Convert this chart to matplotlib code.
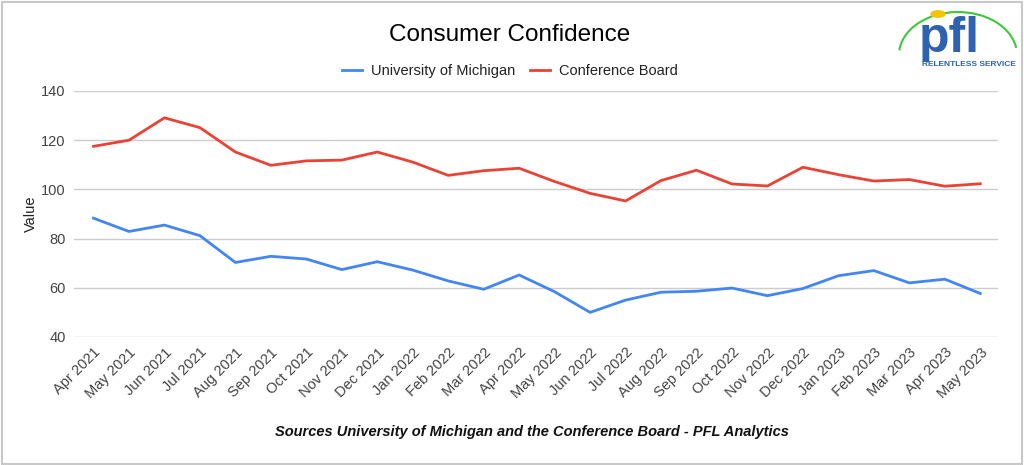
import matplotlib
matplotlib.use("Agg")
import matplotlib.pyplot as plt
from matplotlib.patches import Arc, Circle, Rectangle

months = ["Apr 2021", "May 2021", "Jun 2021", "Jul 2021", "Aug 2021", "Sep 2021", "Oct 2021",
          "Nov 2021", "Dec 2021", "Jan 2022", "Feb 2022", "Mar 2022", "Apr 2022", "May 2022",
          "Jun 2022", "Jul 2022", "Aug 2022", "Sep 2022", "Oct 2022", "Nov 2022", "Dec 2022",
          "Jan 2023", "Feb 2023", "Mar 2023", "Apr 2023", "May 2023"]
michigan = [88.3, 82.9, 85.5, 81.2, 70.3, 72.8, 71.7, 67.4, 70.6, 67.2, 62.8, 59.4, 65.2,
            58.4, 50.0, 55.0, 58.2, 58.6, 59.9, 56.8, 59.7, 64.9, 67.0, 62.0, 63.5, 57.7]
conference = [117.5, 120.0, 129.1, 125.1, 115.2, 109.8, 111.6, 111.9, 115.2, 111.1, 105.7,
              107.6, 108.6, 103.2, 98.4, 95.3, 103.6, 107.8, 102.2, 101.4, 109.0, 106.0,
              103.4, 104.0, 101.3, 102.3]
yticks = [40, 60, 80, 100, 120, 140]

plt.rcParams['font.family'] = ['Liberation Sans', 'DejaVu Sans']

W, H = 1024, 465
fig = plt.figure(figsize=(W / 100, H / 100), dpi=100)
ax = fig.add_axes([74 / W, 1 - 337 / H, (998 - 74) / W, (337 - 91) / H])

x = list(range(len(months)))
ax.plot(x, michigan, color="#4285F4", lw=2.0, label="University of Michigan", solid_joinstyle="round")
ax.plot(x, conference, color="#EA4335", lw=2.0, label="Conference Board", solid_joinstyle="round")

ax.set_xlim(-0.55, 25.5)
ax.set_ylim(40, 140)
ax.set_yticks(yticks)
ax.set_yticklabels([str(v) for v in yticks], fontsize=10.5, color="#444444")
ax.set_xticks(x)
ax.set_xticklabels(months, rotation=45, ha="right", rotation_mode="anchor",
                   fontsize=10.5, color="#444444")
ax.tick_params(axis="both", length=0, pad=6)
ax.grid(axis="y", color="#cccccc", lw=1)
for s in ax.spines.values():
    s.set_visible(False)
ax.set_ylabel("Value", fontsize=10.5, color="#222222", labelpad=2)

fig.text(510 / W, 1 - 35 / H, "Consumer Confidence", ha="center", va="center",
         fontsize=17.5, color="#000000")

leg = fig.legend(loc="center", bbox_to_anchor=(510 / W, 1 - 71 / H), ncol=2, frameon=False,
                 fontsize=10.5, handlelength=1.4, columnspacing=1.0, handletextpad=0.6)
for t in leg.get_texts():
    t.set_color("#222222")

fig.text(532 / W, 1 - 432 / H,
         "Sources University of Michigan and the Conference Board - PFL Analytics",
         ha="center", va="center", fontsize=10.5, fontweight="bold", fontstyle="italic",
         color="#111111")

# border
fig.patches.append(Rectangle((1.5 / W, 1.5 / H), (W - 4) / W, (H - 4) / H,
                             transform=fig.transFigure, fill=False, ec="#c8c8c8", lw=1.5))

# logo
fig.patches.append(Arc((958 / W, 1 - 55 / H), 118 / W, 86 / H, theta1=15, theta2=170,
                       transform=fig.transFigure, color="#3cc83c", lw=1.5))
fig.patches.append(Circle((938 / W, 1 - 14 / H), 7 / W, transform=fig.transFigure,
                          color="#f5c400"))
fig.text(949 / W, 1 - 39 / H, "pfl", ha="center", va="center", fontsize=36,
         fontweight="bold", color="#2e62b0")
fig.text(969 / W, 1 - 65 / H, "RELENTLESS SERVICE", ha="center", va="center", fontsize=6,
         fontweight="bold", color="#2e62b0")

fig.savefig("out.png", dpi=100, facecolor="white")
